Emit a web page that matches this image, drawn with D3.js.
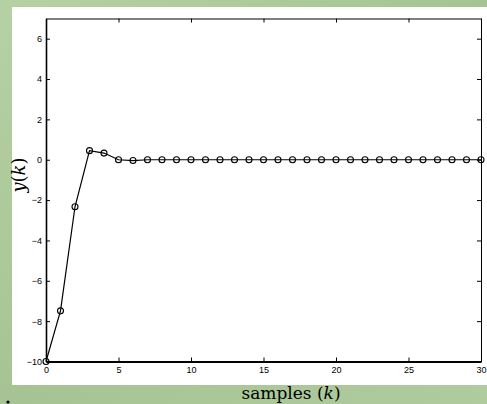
<!DOCTYPE html>
<html>
<head>
<meta charset="utf-8">
<title>y(k) samples</title>
<script src="https://cdn.jsdelivr.net/npm/d3@7"></script>
<style>
  body { margin: 0; background: #b1cc9f; }
  svg { display: block; }
  .tick text { font-family: "Liberation Sans", Arial, sans-serif; font-size: 9px; fill: #000; }
</style>
</head>
<body>
<script>
// samples k = 0..30 and response y(k)
var samples = d3.range(0, 31);
var yValues = [-10, -7.49, -2.33, 0.45, 0.33, 0, -0.04, 0, 0, 0, 0, 0, 0, 0, 0, 0,
               0, 0, 0, 0, 0, 0, 0, 0, 0, 0, 0, 0, 0, 0, 0];
var xTicks = [0, 5, 10, 15, 20, 25, 30];
var yTicks = [-10, -8, -6, -4, -2, 0, 2, 4, 6];

var W = 487, H = 404;
var plot = {left: 46, right: 481, top: 18.5, bottom: 361.5};

var svg = d3.select("body").append("svg")
    .attr("width", W)
    .attr("height", H);

// green paper backdrop
var grad = svg.append("defs").append("linearGradient")
    .attr("id", "bg").attr("x1", 0).attr("y1", 0).attr("x2", 1).attr("y2", 1);
grad.append("stop").attr("offset", "0%").attr("stop-color", "#b6d1a4");
grad.append("stop").attr("offset", "50%").attr("stop-color", "#a6c493");
grad.append("stop").attr("offset", "100%").attr("stop-color", "#b0cb9e");
svg.append("rect").attr("width", W).attr("height", H).attr("fill", "url(#bg)");

// white figure area
svg.append("rect")
    .attr("x", 12).attr("y", 7)
    .attr("width", W - 12).attr("height", 378)
    .attr("fill", "#fff");

var x = d3.scaleLinear().domain([0, 30]).range([plot.left, plot.right]);
var y = d3.scaleLinear().domain([-10, 7]).range([plot.bottom, plot.top]);

var tickFmt = function(d) { return d < 0 ? "\u2212" + Math.abs(d) : d; };

// axes with inward ticks (matlab style)
svg.append("g")
    .attr("transform", "translate(0," + plot.bottom + ")")
    .call(d3.axisBottom(x).tickValues(xTicks).tickFormat(tickFmt).tickSizeInner(-4).tickSizeOuter(0).tickPadding(5))
    .call(function(g) { g.select(".domain").attr("stroke-width", 2.2); });

svg.append("g")
    .attr("transform", "translate(" + plot.left + ",0)")
    .call(d3.axisLeft(y).tickValues(yTicks).tickFormat(tickFmt).tickSizeInner(-4).tickSizeOuter(0).tickPadding(4))
    .call(function(g) { g.select(".domain").attr("stroke-width", 1.6); });

svg.append("g")
    .attr("transform", "translate(0," + plot.top + ")")
    .call(d3.axisTop(x).tickValues(xTicks).tickFormat("").tickSizeInner(-4).tickSizeOuter(0));

svg.append("g")
    .attr("transform", "translate(" + plot.right + ",0)")
    .call(d3.axisRight(y).tickValues(yTicks).tickFormat("").tickSizeInner(-4).tickSizeOuter(0));

// response line
var line = d3.line()
    .x(function(d, i) { return x(samples[i]); })
    .y(function(d) { return y(d); });

svg.append("path")
    .datum(yValues)
    .attr("d", line)
    .attr("fill", "none")
    .attr("stroke", "#000")
    .attr("stroke-width", 1.2);

svg.selectAll(".pt")
    .data(yValues)
    .enter()
    .append("circle")
    .attr("class", "pt")
    .attr("cx", function(d, i) { return x(samples[i]); })
    .attr("cy", function(d) { return y(d); })
    .attr("r", 3)
    .attr("fill", "none")
    .attr("stroke", "#000")
    .attr("stroke-width", 1.1);

// labels
svg.append("text")
    .attr("x", 291).attr("y", 399)
    .attr("text-anchor", "middle")
    .style("font-family", "'DejaVu Serif', 'Liberation Serif', serif")
    .style("font-size", "17px")
    .html("samples (<tspan font-style='italic'>k</tspan>)");

svg.append("text")
    .attr("transform", "translate(25,175) rotate(-90)")
    .attr("text-anchor", "middle")
    .style("font-family", "'DejaVu Serif', 'Liberation Serif', serif")
    .style("font-size", "18px")
    .html("<tspan font-style='italic'>y</tspan>(<tspan font-style='italic'>k</tspan>)");

// stray bullet in the lower left corner
svg.append("circle").attr("cx", 8).attr("cy", 402).attr("r", 1.6).attr("fill", "#000");
</script>
</body>
</html>
